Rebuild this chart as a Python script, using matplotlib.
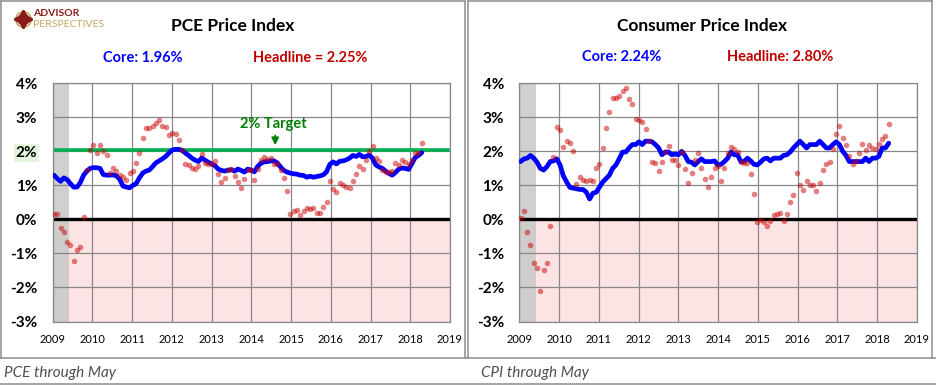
import numpy as np
import matplotlib
matplotlib.use("Agg")
from matplotlib import pyplot as plt
from matplotlib.lines import Line2D

plt.rcParams['font.family'] = ['Lato', 'DejaVu Sans']

# Monthly year-over-year change, Jan 2009 .. May 2018
pce_headline = [
    0.15, 0.15, -0.25, -0.37, -0.66, -0.75, -1.22, -0.90, -0.80, 0.06, 1.44, 2.05,
    2.18, 1.96, 2.18, 2.00, 1.90, 1.37, 1.52, 1.41, 1.31, 1.25, 1.17, 1.37,
    1.41, 1.67, 1.96, 2.40, 2.70, 2.70, 2.75, 2.84, 2.93, 2.75, 2.73, 2.49,
    2.55, 2.52, 2.34, 2.05, 1.64, 1.59, 1.52, 1.49, 1.56, 1.93, 1.67, 1.64,
    1.62, 1.71, 1.34, 1.10, 1.23, 1.46, 1.49, 1.29, 1.10, 0.93, 1.20, 1.44,
    1.46, 1.15, 1.49, 1.74, 1.83, 1.78, 1.81, 1.64, 1.62, 1.46, 1.23, 0.83,
    0.15, 0.26, 0.29, 0.14, 0.25, 0.33, 0.31, 0.33, 0.19, 0.20, 0.36, 0.52,
    1.12, 0.88, 0.81, 1.08, 1.01, 0.95, 0.92, 1.12, 1.34, 1.56, 1.49, 1.75,
    2.00, 2.17, 1.80, 1.73, 1.46, 1.40, 1.38, 1.42, 1.66, 1.59, 1.74, 1.70,
    1.62, 1.74, 1.95, 1.95, 2.25,
]
pce_core = [
    1.30, 1.20, 1.12, 1.22, 1.17, 1.05, 0.95, 0.95, 1.08, 1.30, 1.42, 1.50,
    1.52, 1.52, 1.50, 1.32, 1.30, 1.30, 1.31, 1.28, 1.18, 0.98, 0.95, 0.93,
    1.00, 1.05, 1.22, 1.36, 1.42, 1.45, 1.55, 1.66, 1.72, 1.78, 1.85, 1.95,
    2.04, 2.06, 2.06, 2.03, 1.95, 1.88, 1.80, 1.74, 1.70, 1.81, 1.74, 1.68,
    1.63, 1.58, 1.48, 1.44, 1.42, 1.45, 1.46, 1.42, 1.48, 1.44, 1.39, 1.48,
    1.45, 1.40, 1.55, 1.65, 1.69, 1.70, 1.72, 1.72, 1.66, 1.54, 1.44, 1.39,
    1.36, 1.34, 1.33, 1.30, 1.29, 1.24, 1.27, 1.24, 1.26, 1.28, 1.31, 1.40,
    1.62, 1.69, 1.63, 1.71, 1.72, 1.75, 1.80, 1.88, 1.85, 1.91, 1.84, 1.85,
    1.89, 1.80, 1.60, 1.54, 1.50, 1.42, 1.35, 1.30, 1.38, 1.48, 1.51, 1.50,
    1.47, 1.64, 1.82, 1.88, 1.96,
]
cpi_headline = [
    0.03, 0.24, -0.38, -0.74, -1.28, -1.43, -2.10, -1.48, -1.29, -0.18, 1.84, 2.72,
    2.63, 2.14, 2.31, 2.24, 2.02, 1.05, 1.24, 1.15, 1.14, 1.17, 1.14, 1.50,
    1.63, 2.11, 2.68, 3.16, 3.57, 3.56, 3.63, 3.77, 3.87, 3.53, 3.39, 2.96,
    2.93, 2.87, 2.65, 2.30, 1.70, 1.66, 1.41, 1.69, 1.99, 2.16, 1.76, 1.74,
    1.59, 1.98, 1.47, 1.06, 1.36, 1.75, 1.96, 1.52, 1.18, 0.96, 1.24, 1.50,
    1.58, 1.13, 1.51, 1.95, 2.13, 2.07, 1.99, 1.70, 1.66, 1.66, 1.32, 0.76,
    -0.09, -0.03, -0.07, -0.20, -0.04, 0.12, 0.17, 0.20, -0.04, 0.17, 0.50, 0.73,
    1.37, 1.02, 0.85, 1.13, 1.02, 1.01, 0.83, 1.06, 1.46, 1.64, 1.69, 2.07,
    2.50, 2.74, 2.38, 2.20, 1.87, 1.63, 1.73, 1.94, 2.23, 2.04, 2.20, 2.11,
    2.07, 2.21, 2.36, 2.46, 2.80,
]
cpi_core = [
    1.70, 1.78, 1.80, 1.88, 1.80, 1.68, 1.50, 1.45, 1.55, 1.70, 1.72, 1.78,
    1.60, 1.28, 1.10, 0.94, 0.92, 0.90, 0.88, 0.88, 0.80, 0.60, 0.77, 0.80,
    0.95, 1.10, 1.20, 1.30, 1.50, 1.60, 1.78, 1.98, 1.98, 2.10, 2.20, 2.20,
    2.28, 2.20, 2.30, 2.30, 2.28, 2.20, 2.10, 1.90, 1.98, 1.98, 1.90, 1.92,
    1.90, 2.00, 1.88, 1.70, 1.68, 1.60, 1.70, 1.78, 1.70, 1.70, 1.70, 1.72,
    1.60, 1.62, 1.70, 1.80, 1.98, 1.90, 1.90, 1.70, 1.70, 1.80, 1.72, 1.62,
    1.60, 1.68, 1.78, 1.80, 1.72, 1.80, 1.80, 1.80, 1.88, 1.90, 1.98, 2.10,
    2.20, 2.30, 2.20, 2.10, 2.20, 2.20, 2.20, 2.30, 2.20, 2.10, 2.10, 2.20,
    2.28, 2.20, 2.00, 1.88, 1.70, 1.70, 1.70, 1.70, 1.70, 1.80, 1.70, 1.80,
    1.80, 1.85, 2.10, 2.10, 2.24,
]
years = list(range(2009, 2020))
y_ticks = list(range(-3, 5))
recession_end = 2009.42
fed_target = 2.05

W, H = 936, 385
fig = plt.figure(figsize=(W / 100, H / 100), dpi=100)


def fx(px):
    return px / W


def fy(py):
    return 1 - py / H


def draw_panel(ax, core, headline):
    months = np.arange(len(core))
    x = 2009 + (months + 0.4) / 12.1
    ax.set_xlim(2009, 2019)
    ax.set_ylim(-3, 4)

    # negative zone and recession band
    ax.axhspan(-3, 0, color='#fde4e4', lw=0, zorder=0)
    ax.axvspan(2009, recession_end, color='#c8c8c8', alpha=0.85, lw=0, zorder=0.5)

    for yr in years:
        ax.axvline(yr, color='#888888', lw=0.9, zorder=1)
    for v in y_ticks:
        ax.axhline(v, color='#888888', lw=0.9, zorder=1)
    ax.axhline(0, color='black', lw=2.4, zorder=2)

    ax.plot(x, core, color='#0000ff', lw=3.4, zorder=3, solid_capstyle='round')
    ax.scatter(x, headline, s=16, color='#c80000', alpha=0.5, lw=0, zorder=4)

    ax.set_xticks(years)
    ax.set_xticklabels([str(y) for y in years], fontsize=8)
    ax.set_yticks(y_ticks)
    ax.set_yticklabels([f'{v}%' for v in y_ticks], fontsize=11, fontweight='bold')
    ax.tick_params(axis='both', length=0)
    ax.tick_params(axis='y', pad=11)
    ax.tick_params(axis='x', pad=9)
    for s in ax.spines.values():
        s.set_color('#888888')
        s.set_linewidth(0.9)


ax1 = fig.add_axes([fx(52.7), fy(321.5), (450 - 52.7) / W, (321.5 - 83.3) / H])
ax2 = fig.add_axes([fx(519.3), fy(321.5), (917 - 519.3) / W, (321.5 - 83.3) / H])
draw_panel(ax1, pce_core, pce_headline)
draw_panel(ax2, cpi_core, cpi_headline)

# 2% target on the PCE panel
ax1.axhline(fed_target, xmin=0.005, xmax=0.995, color='#00b050', lw=2.6, zorder=2.5)
ax1.text(2014.55, 2.8, '2% Target', color='#008000', fontsize=10.5,
         fontweight='bold', ha='center', va='center', zorder=5)
ax1.annotate('', xy=(2014.6, 2.1), xytext=(2014.6, 2.55),
             arrowprops=dict(arrowstyle='-|>', color='#008000', lw=1.2,
                             mutation_scale=11), zorder=5)
ax1.get_yticklabels()[5].set_bbox(dict(facecolor='#e4f5de', edgecolor='none', pad=1.2))

# headers
fig.text(fx(233), fy(26), 'PCE Price Index', fontsize=12.5, fontweight='bold',
         ha='center', va='center')
fig.text(fx(143), fy(58), 'Core: 1.96%', fontsize=10.5, fontweight='bold',
         color='#0000ff', ha='center', va='center')
fig.text(fx(310), fy(58), 'Headline = 2.25%', fontsize=10.5, fontweight='bold',
         color='#c00000', ha='center', va='center')
fig.text(fx(702), fy(26), 'Consumer Price Index', fontsize=12.5, fontweight='bold',
         ha='center', va='center')
fig.text(fx(622), fy(57), 'Core: 2.24%', fontsize=10.5, fontweight='bold',
         color='#0000ff', ha='center', va='center')
fig.text(fx(780), fy(57), 'Headline: 2.80%', fontsize=10.5, fontweight='bold',
         color='#c00000', ha='center', va='center')

# logo
fig.text(fx(33), fy(13.5), 'ADVISOR', fontsize=7.5, fontweight='bold', color='#8b1a1a',
         ha='left', va='center')
fig.text(fx(33), fy(24.5), 'PERSPECTIVES', fontsize=7.5, color='#c8a560',
         ha='left', va='center')
logo = fig.add_axes([fx(14), fy(28), 18 / W, 18 / H])
logo.set_xlim(-1, 1)
logo.set_ylim(-1, 1)
logo.axis('off')
logo.plot(0, 0, marker='o', ms=11, mfc='none', mec='#c8a560', mew=1.2)
logo.plot(0, 0, marker=(4, 1, 0), ms=14, color='#8b1a1a')
logo.plot(0, 0, marker=(4, 1, 45), ms=8, color='#8b1a1a')

# captions
fig.text(fx(4), fy(373), 'PCE through May', fontsize=11, style='italic',
         color='#505050', ha='left', va='center')
fig.text(fx(481), fy(373), 'CPI through May', fontsize=11, style='italic',
         color='#505050', ha='left', va='center')

# frame lines
frame = '#8c8c8c'
for xs, ys in [
    ([0.5, 465], [1, 1]), ([467.5, 932], [1, 1]),
    ([0.5, 0.5], [1, 358]), ([465, 465], [1, 358]),
    ([467.5, 467.5], [1, 358]), ([932, 932], [1, 358]),
    ([0, 936], [358, 358]), ([0, 936], [383.5, 383.5]),
]:
    fig.add_artist(Line2D([fx(v) for v in xs], [fy(v) for v in ys],
                          transform=fig.transFigure, color=frame, lw=1.1))

fig.savefig('out.png', dpi=100)
